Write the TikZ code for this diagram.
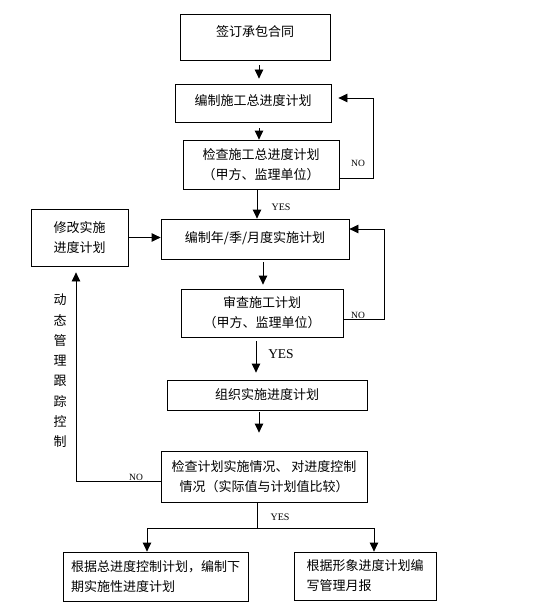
\documentclass[tikz,border=0pt]{standalone}
\usepackage{fontspec}
\setmainfont{Liberation Serif}
\newfontfamily\cjk{Noto Sans CJK SC}
\usetikzlibrary{arrows.meta}
\begin{document}
\begin{tikzpicture}[x=1pt,y=-1pt,
  box/.style={draw, line width=0.8pt, rectangle, align=center, inner sep=0pt, font=\cjk\fontsize{13}{20}\selectfont},
  arrs/.style={draw, line width=0.8pt, -{Triangle[length=9pt,width=8.5pt]}},
  ln/.style={draw, line width=0.8pt},
  lab/.style={font=\fontsize{9.5}{10}\selectfont, inner sep=0pt}]
\useasboundingbox (0,0) rectangle (539,607);
\fill[white] (0,0) rectangle (539,607);

\node[box, minimum width=150pt, minimum height=46pt, text depth=12pt] (b1) at (255,37) {签订承包合同};
\node[box, minimum width=156pt, minimum height=38pt, text depth=5pt] (b2) at (253,103) {编制施工总进度计划};
\node[box, minimum width=156pt, minimum height=49pt] (b3) at (261,164.5) {检查施工总进度计划\\（甲方、监理单位）};
\node[box, minimum width=188pt, minimum height=40pt, text depth=5pt] (b4) at (255,239) {编制年/季/月度实施计划};
\node[box, minimum width=97pt, minimum height=57pt] (mod) at (79.5,237.5) {修改实施\\进度计划};
\node[box, minimum width=162pt, minimum height=48pt] (b5) at (262,313) {审查施工计划\\（甲方、监理单位）};
\node[box, minimum width=200pt, minimum height=30pt] (b6) at (267,395) {组织实施进度计划};
\node[box, minimum width=206pt, minimum height=51pt] (b7) at (264,476.5) {检查计划实施情况、\ 对进度控制\\情况（实际值与计划值比较）};
\node[box, align=left, minimum width=185pt, minimum height=49pt] (b8) at (155.5,576.5) {根据总进度控制计划，编制下\\期实施性进度计划};
\node[box, align=left, minimum width=142pt, minimum height=48pt] (b9) at (365,576) {根据形象进度计划编\\写管理月报};

\node[font=\cjk\fontsize{13}{20.3}\selectfont, align=center, inner sep=0pt] (vt) at (60,371) {动\\态\\管\\理\\跟\\踪\\控\\制};

\node[lab] (no1) at (358,163) {NO};
\node[lab] (no2) at (358,315) {NO};
\node[lab] (no3) at (136,477) {NO};
\node[lab, font=\fontsize{10}{12}\selectfont] (yes1) at (281,207) {YES};
\node[lab, font=\fontsize{13.5}{14}\selectfont] (yes2) at (281,354) {YES};
\node[lab, font=\fontsize{10}{12}\selectfont] (yes3) at (280,517) {YES};

\draw[arrs, shorten <=5pt, shorten >=5pt] ([xshift=4pt]b1.south) -- ([xshift=4pt]b1.south |- b2.north);
\draw[arrs, shorten <=6pt] ([xshift=6pt]b2.south) -- ([xshift=6pt]b2.south |- b3.north);
\draw[arrs] ([xshift=-4pt]b3.south) -- ([xshift=-4pt]b3.south |- b4.north);
\draw[arrs, shorten >=7pt] ([yshift=-13.5pt]b3.east) -- ++(34,0) |- ([yshift=5pt]b2.east);
\draw[arrs] (mod.east) -- (mod.east -| b4.west);
\draw[arrs, shorten <=3pt, shorten >=4pt] ([xshift=8pt]b4.south) -- ([xshift=8pt]b4.south |- b5.north);
\draw[arrs] ([yshift=-6pt]b5.east) -- ++(41,0) |- ([yshift=10pt]b4.east);
\draw[arrs, shorten <=4pt, shorten >=7pt] ([xshift=-6pt]b5.south) -- ([xshift=-6pt]b5.south |- b6.north);
\draw[arrs, shorten <=2pt, shorten >=18pt] ([xshift=-8pt]b6.south) -- ([xshift=-8pt]b6.south |- b7.north);
\draw[arrs, shorten >=6pt] ([yshift=-4.5pt]b7.west) -| ([xshift=-3.5pt]mod.south);
\coordinate (j) at (257,528);
\draw[ln] ([xshift=-7pt]b7.south) -- (j);
\draw[arrs] (j) -| ([xshift=-8.5pt]b8.north);
\draw[arrs] (j) -| ([xshift=9pt]b9.north);
\end{tikzpicture}
\end{document}
